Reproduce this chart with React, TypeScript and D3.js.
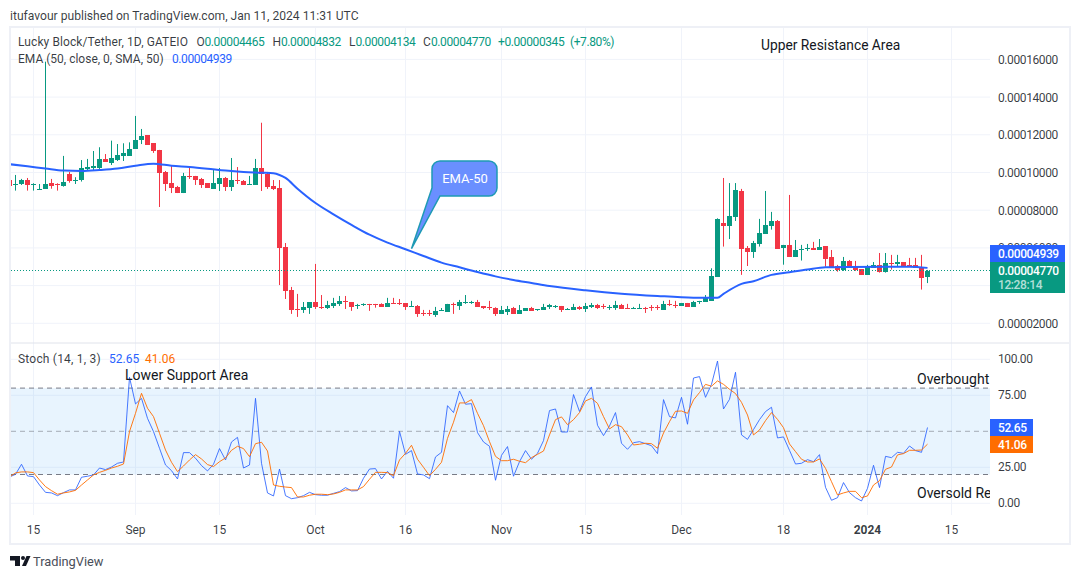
import * as d3 from "d3";
import React from "react";

// prices are in units of 0.00001 USDT, one entry per day starting Aug 11 2023
const firstDay = new Date(Date.UTC(2023, 7, 11));

const openValues = [
  9.6, 9.36, 9.37, 9.59, 9.36, 9.09, 9.13, 9.44, 9.41, 9.29, 9.92, 9.57, 9.6, 10.19, 10.24, 10.24, 10.72, 10.51, 10.66, 10.88,
  10.88, 11.25, 11.73, 11.99, 11.55, 11.2, 10.03, 9.44, 9.23, 8.91, 9.82, 9.82, 9.66, 9.44, 9.13, 9.39, 9.71, 9.23, 9.6, 9.55,
  9.36, 9.34, 10.24, 9.92, 9.29, 9.18, 6.05, 3.77, 2.76, 2.71, 2.81, 3.13, 2.87, 2.81, 2.92, 3.03, 3.19, 3.13, 2.94, 2.96,
  3.03, 3.03, 3.05, 2.87, 3.08, 3.06, 3.06, 2.89, 2.94, 2.57, 2.57, 2.44, 2.66, 2.6, 3.05, 2.92, 3.08, 3.1, 3.13, 2.92,
  2.87, 2.81, 2.5, 2.6, 2.81, 2.5, 2.66, 2.81, 2.71, 2.71, 2.87, 2.89, 2.92, 2.73, 2.71, 2.87, 2.76, 2.87, 2.97, 2.92,
  2.83, 2.81, 2.97, 2.8, 2.76, 2.76, 2.83, 2.85, 2.85, 2.71, 3.03, 2.99, 2.92, 3.08, 2.87, 3.13, 3.13, 3.2, 4.48, 7.32,
  7.18, 7.66, 9.02, 6.0, 5.8, 6.23, 6.76, 7.18, 7.43, 6.02, 6.16, 5.54, 5.91, 5.94, 6.0, 5.91, 6.1, 5.52, 5.04, 4.83,
  5.31, 5.04, 4.88, 4.58, 4.96, 5.1, 4.74, 5.2, 5.15, 5.25, 5.1, 5.1, 4.99, 4.465,
];
const highValues = [
  9.7, 9.87, 9.66, 9.71, 9.43, 9.39, 15.88, 9.66, 9.43, 10.88, 10.03, 9.75, 10.66, 10.72, 11.14, 11.34, 10.98, 11.69, 11.51, 11.55,
  11.6, 13.0, 12.31, 11.99, 11.55, 11.2, 10.08, 10.35, 9.29, 9.98, 10.31, 9.82, 9.71, 9.44, 10.13, 10.24, 9.76, 10.77, 10.29, 9.6,
  9.82, 10.72, 12.64, 10.03, 9.6, 9.6, 6.26, 3.93, 3.56, 3.13, 3.13, 5.15, 3.5, 3.19, 3.35, 3.45, 3.45, 3.13, 3.03, 3.06,
  3.03, 3.03, 3.06, 3.35, 3.35, 3.29, 3.06, 3.19, 2.97, 2.71, 2.71, 2.87, 2.81, 3.03, 3.1, 3.24, 3.5, 3.19, 3.24, 2.92,
  3.19, 2.85, 2.92, 2.92, 2.87, 2.97, 2.81, 2.87, 2.74, 3.03, 3.03, 2.97, 2.92, 2.81, 3.03, 2.92, 3.08, 3.08, 3.03, 3.03,
  2.97, 3.19, 3.03, 3.03, 2.87, 3.03, 2.87, 2.97, 2.97, 3.19, 3.24, 3.19, 3.08, 3.08, 3.19, 3.19, 3.5, 4.92, 7.57, 9.71,
  9.44, 9.44, 9.13, 6.1, 6.37, 7.54, 9.02, 7.91, 7.48, 6.16, 8.81, 6.42, 6.16, 6.21, 6.32, 6.47, 6.1, 5.89, 5.1, 5.52,
  5.36, 5.31, 4.88, 5.1, 5.25, 5.73, 5.73, 5.63, 5.63, 5.25, 5.47, 5.47, 5.63, 4.832,
];
const lowValues = [
  9.29, 9.04, 9.34, 9.04, 9.04, 9.09, 9.13, 9.14, 9.04, 9.25, 9.46, 9.39, 9.52, 10.08, 10.13, 10.19, 10.56, 10.4, 10.61, 10.61,
  10.88, 11.25, 11.51, 11.46, 11.04, 8.17, 9.02, 8.91, 8.91, 8.91, 9.66, 9.34, 9.18, 9.18, 9.13, 9.02, 9.02, 9.02, 9.39, 9.34,
  9.34, 9.34, 9.02, 9.13, 9.07, 4.03, 3.29, 2.5, 2.34, 2.55, 2.5, 2.76, 2.76, 2.76, 2.81, 2.92, 2.76, 2.66, 2.76, 2.92,
  2.66, 2.83, 2.89, 2.87, 3.03, 2.97, 2.71, 2.89, 2.34, 2.39, 2.39, 2.34, 2.66, 2.6, 2.5, 2.71, 3.03, 3.03, 2.87, 2.76,
  2.71, 2.39, 2.5, 2.44, 2.5, 2.5, 2.66, 2.66, 2.66, 2.71, 2.76, 2.81, 2.6, 2.71, 2.71, 2.71, 2.6, 2.81, 2.76, 2.76,
  2.71, 2.71, 2.76, 2.76, 2.76, 2.76, 2.55, 2.66, 2.71, 2.71, 2.92, 2.81, 2.92, 2.87, 2.87, 3.03, 3.13, 3.2, 4.48, 6.07,
  6.47, 7.43, 4.57, 5.04, 5.47, 6.07, 6.76, 6.97, 5.96, 5.11, 5.54, 5.54, 5.33, 5.84, 5.91, 5.91, 5.01, 4.99, 4.74, 4.78,
  4.96, 4.78, 4.58, 4.58, 4.96, 4.69, 4.69, 4.85, 5.04, 5.04, 5.01, 4.96, 3.79, 4.134,
];
const closeValues = [
  9.29, 9.39, 9.59, 9.34, 9.41, 9.13, 9.37, 9.29, 9.37, 9.48, 9.55, 9.6, 10.24, 10.29, 10.35, 10.72, 10.56, 10.77, 10.93, 11.04,
  11.25, 11.73, 11.94, 11.46, 11.14, 9.99, 9.39, 9.18, 8.91, 9.82, 9.76, 9.6, 9.34, 9.18, 9.44, 9.71, 9.23, 9.6, 9.55, 9.34,
  9.39, 10.24, 9.92, 9.23, 9.13, 6.01, 3.72, 2.71, 2.71, 2.87, 3.13, 2.87, 2.81, 2.97, 3.08, 3.19, 3.13, 2.87, 2.97, 3.03,
  2.99, 2.99, 2.89, 3.08, 3.05, 3.03, 2.87, 2.92, 2.5, 2.53, 2.53, 2.66, 2.71, 3.03, 2.97, 3.13, 3.13, 3.13, 2.87, 2.83,
  2.83, 2.5, 2.69, 2.78, 2.5, 2.71, 2.81, 2.66, 2.74, 2.87, 2.96, 2.94, 2.71, 2.76, 2.87, 2.76, 2.92, 2.97, 2.81, 2.89,
  2.89, 2.97, 2.76, 2.76, 2.81, 2.81, 2.8, 2.81, 2.81, 3.03, 2.97, 2.96, 3.08, 2.87, 3.13, 3.19, 3.33, 4.53, 7.54, 7.18,
  7.69, 9.07, 5.96, 5.8, 6.26, 6.79, 7.22, 7.43, 5.96, 6.16, 5.54, 5.89, 5.96, 5.98, 5.91, 6.05, 5.43, 4.99, 4.85, 5.31,
  4.96, 4.85, 4.58, 4.99, 5.1, 4.74, 5.2, 5.17, 5.25, 5.04, 5.04, 4.96, 4.42, 4.77,
];

// EMA-50 every few days (day number counted from Aug 11)
const emaDays = [
  0, 3, 6, 9, 12, 15, 18, 21, 24, 27, 30, 33, 36, 39, 42, 44, 45, 46, 48, 51, 54, 57, 60, 63, 66, 69, 72, 75, 78, 81, 84, 87,
  90, 96, 102, 108, 114, 117, 118, 119, 122, 124, 127, 130, 133, 136, 140, 146, 150, 153,
];
const emaValues = [
  10.44, 10.33, 10.21, 10.1, 10.08, 10.13, 10.21, 10.36, 10.47, 10.36, 10.29, 10.2, 10.1, 10.03, 9.99, 9.96, 9.87, 9.71, 9.14,
  8.38, 7.78, 7.22, 6.7, 6.28, 5.93, 5.57, 5.22, 4.97, 4.72, 4.49, 4.3, 4.14, 3.98, 3.75, 3.57, 3.45, 3.36, 3.35, 3.35, 3.56,
  4.09, 4.23, 4.57, 4.71, 4.85, 4.97, 4.99, 5.0, 5.0, 4.94,
];

const stochK = [
  18.3, 20.1, 27.1, 19.0, 18.5, 12.7, 7.6, 7.2, 5.3, 7.4, 9.3, 9.3, 18.1, 18.8, 19.7, 24.5, 23.4, 25.2, 27.8, 28.7,
  87.5, 69.0, 72.9, 59.0, 49.8, 38.2, 26.6, 22.7, 16.9, 35.2, 35.2, 31.3, 26.2, 22.5, 27.1, 38.0, 30.1, 42.6, 45.8, 24.5,
  26.6, 72.9, 27.8, 7.2, 5.1, 23.8, 5.3, 3.2, 3.9, 5.3, 7.6, 6.0, 5.6, 5.6, 6.9, 8.1, 10.9, 8.6, 8.8, 17.4,
  23.8, 24.1, 16.9, 22.2, 17.4, 50.0, 34.0, 36.6, 20.4, 19.7, 17.1, 32.2, 35.4, 67.8, 63.0, 78.0, 68.8, 69.2, 49.1, 42.6,
  39.6, 16.0, 33.3, 39.4, 18.8, 28.9, 36.6, 30.6, 34.7, 43.5, 64.4, 65.5, 49.5, 49.5, 75.5, 63.7, 74.1, 80.8, 54.2, 47.0,
  53.7, 63.0, 41.7, 37.5, 42.1, 42.8, 41.4, 40.0, 34.5, 72.0, 60.2, 59.3, 73.6, 54.9, 87.0, 88.0, 73.6, 82.6, 98.8, 65.5,
  72.2, 91.0, 47.5, 44.4, 51.2, 58.1, 63.7, 66.7, 45.4, 46.1, 36.8, 27.3, 27.8, 30.3, 28.9, 33.8, 11.1, 2.1, 3.9, 14.4,
  7.4, 3.9, 1.6, 10.4, 26.4, 10.9, 32.6, 31.7, 35.4, 34.7, 39.8, 36.6, 35.4, 52.65,
];
const stochD = [
  18.3, 21.1, 21.8, 21.8, 21.3, 16.2, 11.6, 8.8, 6.3, 7.2, 7.9, 9.0, 12.7, 16.2, 19.7, 21.5, 22.9, 24.5, 25.7, 27.3,
  49.8, 62.5, 76.4, 66.0, 60.2, 48.6, 37.0, 28.5, 22.0, 25.9, 30.1, 33.8, 30.8, 26.9, 25.5, 28.9, 31.5, 36.8, 39.6, 38.0,
  32.4, 41.4, 42.4, 36.3, 12.7, 11.8, 11.3, 10.9, 4.4, 4.4, 5.6, 6.3, 6.3, 6.0, 6.5, 7.6, 9.3, 9.3, 9.3, 11.6,
  16.7, 21.5, 21.5, 21.3, 19.2, 30.1, 34.7, 40.3, 30.6, 25.0, 19.2, 23.6, 28.5, 45.1, 56.3, 69.7, 69.7, 72.0, 62.5, 53.9,
  42.8, 32.6, 29.6, 29.6, 30.6, 29.2, 28.2, 31.7, 34.0, 36.3, 47.5, 58.1, 60.0, 54.6, 58.1, 63.0, 71.1, 72.9, 69.4, 60.2,
  51.6, 54.6, 53.2, 47.5, 40.5, 41.0, 41.7, 41.4, 38.2, 48.8, 56.7, 63.9, 64.1, 62.5, 71.8, 76.9, 82.6, 81.3, 85.0, 82.6,
  79.2, 76.2, 70.1, 61.3, 47.5, 50.9, 57.4, 63.0, 58.3, 52.5, 41.2, 35.9, 30.6, 28.7, 28.7, 30.8, 24.3, 15.0, 5.8, 7.2,
  8.3, 8.3, 3.9, 5.1, 12.7, 15.7, 23.6, 25.2, 33.6, 34.5, 36.8, 36.8, 37.0, 41.06,
];

const priceTicks = [2, 4, 6, 8, 10, 12, 14, 16];
const priceAxisLabels = [2, 6, 8, 10, 12, 14, 16];
const stochTicks = [0, 25, 50, 75, 100];
const stochAxisLabels = [0, 25, 75, 100];
const stochLevels = [20, 50, 80];

const timeTicks = [
  { date: new Date(Date.UTC(2023, 7, 15)), label: "15" },
  { date: new Date(Date.UTC(2023, 8, 1)), label: "Sep" },
  { date: new Date(Date.UTC(2023, 8, 15)), label: "15" },
  { date: new Date(Date.UTC(2023, 9, 1)), label: "Oct" },
  { date: new Date(Date.UTC(2023, 9, 16)), label: "16" },
  { date: new Date(Date.UTC(2023, 10, 1)), label: "Nov" },
  { date: new Date(Date.UTC(2023, 10, 15)), label: "15" },
  { date: new Date(Date.UTC(2023, 11, 1)), label: "Dec" },
  { date: new Date(Date.UTC(2023, 11, 18)), label: "18" },
  { date: new Date(Date.UTC(2024, 0, 1)), label: "2024", bold: true },
  { date: new Date(Date.UTC(2024, 0, 15)), label: "15" },
];

const UP = "#089981";
const DOWN = "#F23645";
const BLUE = "#2962FF";
const ORANGE = "#FF6D00";
const GRID = "#F0F3FA";
const INK = "#131722";
const FONT = "Roboto, sans-serif";
const NUM_SPACING = -0.4;

const WIDTH = 1080;
const HEIGHT = 579;
const LEFT = 11;
const RIGHT = 990;
const TOP = 28;
const PANE_SPLIT = 343;
const BOTTOM = 515;

const dayDate = (i: number) => d3.utcDay.offset(firstDay, i);

const x = d3
  .scaleUtc()
  .domain([new Date(Date.UTC(2023, 7, 15)), new Date(Date.UTC(2024, 0, 15))])
  .range([33, 951]);
const y = d3.scaleLinear().domain([2, 16]).range([323.3, 59.4]);
const yStoch = d3.scaleLinear().domain([0, 100]).range([503.3, 359.3]);

const priceText = (v: number) => (v * 1e-5).toFixed(8);

const emaLine = d3
  .line<number>()
  .x((_, i) => x(dayDate(emaDays[i])) + 0.5)
  .y((d) => y(d))
  .curve(d3.curveMonotoneX);

const stochLine = d3
  .line<number>()
  .x((_, i) => x(dayDate(i)) + 0.5)
  .y((d) => yStoch(d));

const lastClose = closeValues[closeValues.length - 1];

function Candles() {
  return (
    <g clipPath="url(#price-clip)">
      {openValues.map((open, i) => {
        const close = closeValues[i];
        const color = close >= open ? UP : DOWN;
        const cx = Math.round(x(dayDate(i)));
        const top = Math.round(y(Math.max(open, close)));
        const bottom = Math.round(y(Math.min(open, close)));
        return (
          <g key={i} fill={color} stroke="none">
            <rect x={cx} y={y(highValues[i])} width={1} height={y(lowValues[i]) - y(highValues[i])} />
            <rect x={cx - 2} y={top} width={5} height={Math.max(bottom - top, 1)} />
          </g>
        );
      })}
    </g>
  );
}

function Callout() {
  // rounded box with a pointer down to the EMA line
  const tipX = x(dayDate(67)) + 0.5;
  const tipY = y(5.96);
  const d = `M443 161H489a8 8 0 0 1 8 8V188a8 8 0 0 1 -8 8H440L${tipX} ${tipY}L432 188V169a8 8 0 0 1 8 -8Z`;
  return (
    <g>
      <path d={d} fill="#6A8FFF" stroke="#1E9AB4" strokeWidth={1.5} />
      <text x={465} y={182.5} textAnchor="middle" fontSize={13} fill="#fff">
        EMA-50
      </text>
    </g>
  );
}

export default function App() {
  return (
    <svg
      width={WIDTH}
      height={HEIGHT}
      viewBox={`0 0 ${WIDTH} ${HEIGHT}`}
      style={{ position: "absolute", left: 0, top: 0, fontFamily: FONT }}
    >
      <defs>
        <clipPath id="price-clip">
          <rect x={LEFT} y={TOP} width={RIGHT - LEFT} height={PANE_SPLIT - TOP} />
        </clipPath>
        <clipPath id="stoch-clip">
          <rect x={LEFT} y={PANE_SPLIT + 1} width={RIGHT - LEFT} height={BOTTOM - PANE_SPLIT} />
        </clipPath>
      </defs>
      <rect width={WIDTH} height={HEIGHT} fill="#fff" />

      <text x={10} y={19.5} fontSize={12.1} fill={INK} fillOpacity={0.85}>
        itufavour published on TradingView.com, Jan 11, 2024 11:31 UTC
      </text>

      {/* grid */}
      {timeTicks.map((t) => (
        <line key={t.date.getTime()} x1={x(t.date) + 0.5} x2={x(t.date) + 0.5} y1={TOP} y2={BOTTOM} stroke={GRID} />
      ))}
      {priceTicks.map((t) => (
        <line key={t} x1={LEFT} x2={RIGHT} y1={y(t)} y2={y(t)} stroke={GRID} />
      ))}
      {stochTicks
        .filter((t) => t !== 50)
        .map((t) => (
          <line key={t} x1={LEFT} x2={RIGHT} y1={yStoch(t)} y2={yStoch(t)} stroke={GRID} />
        ))}

      {/* price pane */}
      <Candles />
      <line
        x1={LEFT}
        x2={RIGHT}
        y1={Math.round(y(lastClose)) - 0.5}
        y2={Math.round(y(lastClose)) - 0.5}
        stroke={UP}
        strokeDasharray="1 2"
        strokeWidth={1}
      />
      <path d={emaLine(emaValues) ?? ""} fill="none" stroke={BLUE} strokeWidth={2} clipPath="url(#price-clip)" />
      <Callout />
      <text x={761} y={50} fontSize={13.8} fill={INK}>
        Upper Resistance Area
      </text>

      {/* stochastic pane */}
      <rect
        x={LEFT}
        y={yStoch(80)}
        width={RIGHT - LEFT}
        height={yStoch(20) - yStoch(80)}
        fill="#2196F3"
        fillOpacity={0.1}
      />
      {stochLevels.map((l) => (
        <line
          key={l}
          x1={LEFT}
          x2={RIGHT}
          y1={yStoch(l)}
          y2={yStoch(l)}
          stroke="#787B86"
          strokeOpacity={l === 50 ? 0.6 : 1}
          strokeDasharray="5 4"
        />
      ))}
      <g clipPath="url(#stoch-clip)" fill="none" strokeWidth={1}>
        <path d={stochLine(stochK) ?? ""} stroke={BLUE} strokeOpacity={0.85} />
        <path d={stochLine(stochD) ?? ""} stroke={ORANGE} strokeOpacity={0.9} />
      </g>
      <g clipPath="url(#stoch-clip)" fontSize={14} fill={INK}>
        <text x={125} y={380}>
          Lower Support Area
        </text>
        <text x={917} y={384}>
          Overbought
        </text>
        <text x={917} y={498}>
          Oversold Re
        </text>
      </g>

      {/* frame and pane divider */}
      <rect x={10} y={27} width={1060} height={517} fill="none" stroke="#EEF0F6" strokeWidth={2} />
      <line x1={LEFT} x2={1069} y1={PANE_SPLIT} y2={PANE_SPLIT} stroke="#E0E3EB" />

      {/* legends */}
      <g fontSize={12} fill={INK} fillOpacity={0.85}>
        <text x={18} y={46} letterSpacing={0.1}>
          Lucky Block/Tether, 1D, GATEIO
        </text>
        <text x={196.5} y={46}>O</text>
        <text x={272.5} y={46}>H</text>
        <text x={349} y={46}>L</text>
        <text x={423} y={46}>C</text>
        <text x={18} y={63}>
          EMA (50, close, 0, SMA, 50)
        </text>
        <text x={18} y={363} letterSpacing={0.2}>
          Stoch (14, 1, 3)
        </text>
      </g>
      <g fontSize={12} fill={UP} letterSpacing={NUM_SPACING}>
        <text x={204.5} y={46}>0.00004465</text>
        <text x={281} y={46}>0.00004832</text>
        <text x={355.5} y={46}>0.00004134</text>
        <text x={431} y={46}>0.00004770</text>
        <text x={498} y={46}>+0.00000345</text>
        <text x={570} y={46}>(+7.80%)</text>
      </g>
      <text x={172} y={63} fontSize={12} fill={BLUE} letterSpacing={NUM_SPACING}>
        0.00004939
      </text>
      <text x={109} y={363} fontSize={12} fill={BLUE}>
        52.65
      </text>
      <text x={145} y={363} fontSize={12} fill={ORANGE}>
        41.06
      </text>

      {/* right axis */}
      <g fontSize={12} fill={INK} fillOpacity={0.85} letterSpacing={NUM_SPACING}>
        {priceAxisLabels.map((t) => (
          <text key={t} x={998} y={y(t) + 4.5}>
            {priceText(t)}
          </text>
        ))}
        {stochAxisLabels.map((t) => (
          <text key={t} x={998} y={yStoch(t) + 3.5}>
            {t.toFixed(2)}
          </text>
        ))}
      </g>
      <g fontSize={12} fontWeight={500} fill="#fff" letterSpacing={NUM_SPACING}>
        <rect x={990} y={245} width={75} height={17} fill={BLUE} />
        <text x={998} y={258}>
          {priceText(emaValues[emaValues.length - 1] - 0.001)}
        </text>
        <rect x={990} y={262} width={75} height={31} fill={UP} />
        <text x={998} y={275}>
          {priceText(lastClose)}
        </text>
        <text x={998} y={289} fillOpacity={0.7}>
          12:28:14
        </text>
        <rect x={990} y={419} width={43} height={17} fill={BLUE} />
        <text x={998} y={432}>
          {stochK[stochK.length - 1].toFixed(2)}
        </text>
        <rect x={990} y={436} width={43} height={17} fill={ORANGE} />
        <text x={998} y={449}>
          {stochD[stochD.length - 1].toFixed(2)}
        </text>
      </g>

      {/* time axis */}
      <g fontSize={12} fill={INK} fillOpacity={0.85} textAnchor="middle">
        {timeTicks.map((t) => (
          <text key={t.date.getTime()} x={x(t.date) + 0.5} y={534} fontWeight={t.bold ? 700 : 400}>
            {t.label}
          </text>
        ))}
      </g>

      {/* footer logo */}
      <g fill="#131722">
        <path d="M10 556H20V566H15V560.5H10Z" />
        <circle cx={23} cy={558} r={2} />
        <path d="M26.5 556H30.5L26 566H22Z" />
      </g>
      <text x={33} y={566} fontSize={12.8} fill="#4A4E59">
        TradingView
      </text>
    </svg>
  );
}
